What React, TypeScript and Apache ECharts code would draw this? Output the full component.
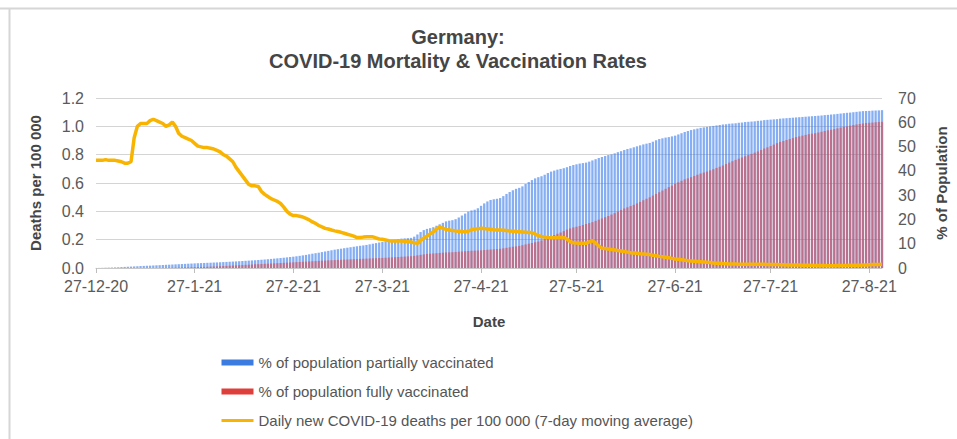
import React, { useEffect, useRef } from "react";
import * as echarts from "echarts";

// Dates: 27-12-20 .. 31-8-21 (daily)
const START = new Date(2020, 11, 27);
const DAY_COUNT = 248;
const dates: string[] = [];
const dayOfMonth: number[] = [];
for (let i = 0; i < DAY_COUNT; i++) {
  const d = new Date(START.getFullYear(), START.getMonth(), START.getDate() + i);
  dates.push(`${d.getDate()}-${d.getMonth() + 1}-${String(d.getFullYear()).slice(2)}`);
  dayOfMonth.push(d.getDate());
}

const leftTicks = [0, 0.2, 0.4, 0.6, 0.8, 1.0, 1.2];
const rightTicks = [0, 10, 20, 30, 40, 50, 60, 70];

// % of population partially vaccinated (daily)
const partiallyVaccinated: number[] = [
  // Dec 27-31
  0.02, 0.04, 0.07, 0.12, 0.16,
  // Jan
  0.2, 0.25, 0.3, 0.38, 0.45, 0.52, 0.58, 0.65, 0.72, 0.8, 0.86, 0.92, 0.97, 1.04, 1.1, 1.17,
  1.24, 1.31, 1.37, 1.43, 1.5, 1.57, 1.63, 1.7, 1.77, 1.83, 1.9, 1.96, 2.02, 2.08, 2.13,
  // Feb
  2.18, 2.24, 2.3, 2.37, 2.44, 2.51, 2.58, 2.65, 2.72, 2.8, 2.88, 2.96, 3.04, 3.12, 3.2, 3.3,
  3.4, 3.5, 3.62, 3.74, 3.86, 3.98, 4.1, 4.24, 4.38, 4.52, 4.66, 4.82,
  // Mar
  5.0, 5.2, 5.4, 5.65, 5.9, 6.1, 6.3, 6.55, 6.8, 7.05, 7.3, 7.55, 7.75, 7.95, 8.15, 8.35,
  8.55, 8.75, 8.95, 9.15, 9.3, 9.5, 9.75, 10.0, 10.25, 10.5, 10.75, 10.9, 11.1, 11.35, 11.6,
  // Apr
  11.9, 12.1, 12.2, 12.3, 12.4, 12.9, 13.8, 14.8, 15.6, 16.1, 16.4, 16.8, 17.4, 18.0, 18.6,
  19.2, 19.5, 19.7, 20.1, 20.8, 21.6, 22.4, 23.2, 23.7, 24.0, 24.6, 25.6, 26.6, 27.4, 28.0,
  // May
  28.3, 28.5, 28.8, 29.6, 30.5, 31.3, 32.0, 32.6, 33.0, 33.6, 34.6, 35.4, 36.2, 36.9, 37.4,
  37.8, 38.4, 39.1, 39.7, 40.1, 40.5, 40.8, 41.1, 41.5, 42.0, 42.4, 42.7, 43.0, 43.2, 43.4, 43.8,
  // Jun
  44.3, 44.8, 45.3, 45.7, 46.1, 46.5, 46.8, 47.2, 47.7, 48.1, 48.6, 49.0, 49.3, 49.7, 50.1,
  50.5, 50.9, 51.2, 51.5, 52.0, 52.6, 53.1, 53.4, 53.7, 53.9, 54.2, 54.5, 55.0, 55.5, 56.0,
  // Jul
  56.4, 56.8, 57.1, 57.4, 57.7, 57.9, 58.1, 58.3, 58.5, 58.7, 58.9, 59.1, 59.2, 59.4, 59.5,
  59.6, 59.8, 59.9, 60.1, 60.2, 60.3, 60.4, 60.6, 60.7, 60.9, 61.0, 61.1, 61.2, 61.3, 61.5, 61.6,
  // Aug
  61.7, 61.8, 61.9, 62.0, 62.1, 62.2, 62.3, 62.4, 62.5, 62.6, 62.7, 62.8, 62.95, 63.05, 63.2,
  63.3, 63.45, 63.6, 63.75, 63.9, 64.0, 64.15, 64.3, 64.45, 64.6, 64.65, 64.7, 64.8, 64.85, 64.9, 65.0,
];

// % of population fully vaccinated (daily)
const fullyVaccinated: number[] = [
  // Dec 27-31
  0, 0, 0, 0, 0,
  // Jan
  0, 0, 0, 0, 0, 0, 0, 0, 0, 0, 0, 0, 0, 0, 0, 0,
  0.02, 0.05, 0.08, 0.11, 0.14, 0.17, 0.2, 0.23, 0.27, 0.31, 0.35, 0.39, 0.43, 0.47, 0.51,
  // Feb
  0.56, 0.62, 0.68, 0.74, 0.8, 0.87, 0.94, 1.01, 1.08, 1.15, 1.22, 1.29, 1.36, 1.43, 1.5, 1.57,
  1.64, 1.71, 1.78, 1.85, 1.92, 1.99, 2.06, 2.13, 2.2, 2.27, 2.34, 2.41,
  // Mar
  2.48, 2.55, 2.62, 2.7, 2.78, 2.85, 2.92, 3.0, 3.07, 3.14, 3.2, 3.26, 3.32, 3.38, 3.44, 3.5,
  3.56, 3.62, 3.68, 3.74, 3.8, 3.86, 3.92, 3.98, 4.04, 4.1, 4.16, 4.22, 4.3, 4.38, 4.46,
  // Apr
  4.54, 4.62, 4.7, 4.78, 4.86, 5.0, 5.2, 5.4, 5.6, 5.8, 5.9, 6.0, 6.1, 6.2, 6.3, 6.4, 6.45,
  6.5, 6.6, 6.7, 6.8, 6.9, 7.0, 7.1, 7.15, 7.2, 7.3, 7.4, 7.5, 7.6,
  // May
  7.7, 7.8, 7.9, 8.1, 8.3, 8.5, 8.7, 8.9, 9.1, 9.4, 9.7, 10.0, 10.3, 10.6, 10.9, 11.3, 11.8,
  12.4, 13.0, 13.6, 14.1, 14.6, 15.2, 15.8, 16.3, 16.7, 17.0, 17.3, 17.7, 18.1, 18.5,
  // Jun
  18.9, 19.4, 19.9, 20.4, 20.9, 21.4, 22.0, 22.6, 23.2, 23.9, 24.5, 25.0, 25.5, 26.0, 26.6,
  27.2, 27.9, 28.5, 29.1, 29.8, 30.5, 31.2, 31.9, 32.6, 33.3, 33.9, 34.6, 35.3, 35.9, 36.5,
  // Jul
  36.9, 37.4, 37.9, 38.4, 38.9, 39.3, 39.7, 40.2, 40.7, 41.2, 41.7, 42.2, 42.8, 43.4, 44.0,
  44.5, 45.0, 45.5, 46.0, 46.5, 47.0, 47.5, 48.0, 48.6, 49.2, 49.7, 50.2, 50.8, 51.4, 51.9, 52.3,
  // Aug
  52.7, 53.1, 53.5, 53.9, 54.2, 54.5, 54.8, 55.1, 55.3, 55.5, 55.8, 56.1, 56.4, 56.7, 56.9,
  57.2, 57.5, 57.8, 58.1, 58.3, 58.6, 58.9, 59.1, 59.3, 59.5, 59.7, 59.8, 59.9, 60.0, 60.1, 60.2,
];

// Daily new COVID-19 deaths per 100 000 (7-day moving average)
const dailyDeaths: number[] = [
  0.76, 0.76, 0.76, 0.765, 0.76, 0.76, 0.76, 0.755, 0.75, 0.74,
  0.74, 0.75, 0.92, 1.0, 1.02, 1.02, 1.02, 1.04, 1.05, 1.04,
  1.03, 1.02, 1.0, 1.01, 1.03, 1.0, 0.95, 0.93, 0.92, 0.91,
  0.9, 0.88, 0.86, 0.855, 0.85, 0.85, 0.845, 0.84, 0.83, 0.82,
  0.8, 0.79, 0.77, 0.75, 0.71, 0.68, 0.65, 0.62, 0.59, 0.58,
  0.58, 0.575, 0.54, 0.52, 0.505, 0.49, 0.48, 0.47, 0.455, 0.43,
  0.4, 0.38, 0.37, 0.37, 0.365, 0.36, 0.35, 0.34, 0.325, 0.315,
  0.3, 0.29, 0.28, 0.275, 0.268, 0.262, 0.258, 0.252, 0.245, 0.238,
  0.232, 0.225, 0.215, 0.215, 0.218, 0.22, 0.22, 0.22, 0.212, 0.205,
  0.203, 0.198, 0.193, 0.19, 0.19, 0.19, 0.19, 0.188, 0.186, 0.183,
  0.178, 0.174, 0.195, 0.21, 0.225, 0.24, 0.255, 0.275, 0.29, 0.28,
  0.272, 0.268, 0.265, 0.262, 0.26, 0.258, 0.256, 0.26, 0.27, 0.275,
  0.277, 0.28, 0.278, 0.276, 0.273, 0.27, 0.268, 0.268, 0.266, 0.264,
  0.262, 0.26, 0.258, 0.256, 0.254, 0.252, 0.25, 0.25, 0.24, 0.228,
  0.222, 0.218, 0.215, 0.214, 0.214, 0.214, 0.215, 0.214, 0.205, 0.185,
  0.178, 0.176, 0.175, 0.174, 0.174, 0.185, 0.193, 0.175, 0.155, 0.14,
  0.137, 0.134, 0.13, 0.127, 0.123, 0.12, 0.116, 0.112, 0.108, 0.106,
  0.104, 0.101, 0.099, 0.097, 0.095, 0.09, 0.086, 0.082, 0.079, 0.076,
  0.072, 0.068, 0.064, 0.061, 0.058, 0.055, 0.052, 0.05, 0.048, 0.046,
  0.044, 0.042, 0.04, 0.038, 0.036, 0.034, 0.033, 0.031, 0.03, 0.028,
  0.028, 0.028, 0.027, 0.027, 0.027, 0.026, 0.026, 0.026, 0.026, 0.026,
  0.026, 0.025, 0.025, 0.024, 0.024, 0.023, 0.023, 0.022, 0.022, 0.021,
  0.021, 0.021, 0.02, 0.02, 0.019, 0.019, 0.018, 0.018, 0.017, 0.017,
  0.016, 0.016, 0.016, 0.017, 0.017, 0.018, 0.018, 0.019, 0.019, 0.02,
  0.02, 0.021, 0.022, 0.023, 0.024, 0.025, 0.025, 0.026,
];

const SERIES_PARTIAL = "% of population partially vaccinated";
const SERIES_FULL = "% of population fully vaccinated";
const SERIES_DEATHS = "Daily new COVID-19 deaths per 100 000 (7-day moving average)";

const FONT = "Liberation Sans, Arial, sans-serif";

export default function App() {
  const ref = useRef<HTMLDivElement>(null);

  useEffect(() => {
    if (!ref.current) return;
    const chart = echarts.init(ref.current, undefined, { renderer: "svg" });
    const isMonthTick = (i: number) => dayOfMonth[i] === 27;
    chart.setOption({
      animation: false,
      backgroundColor: "#ffffff",
      textStyle: { fontFamily: FONT },
      title: {
        text: "Germany:\nCOVID-19 Mortality & Vaccination Rates",
        left: 453,
        top: 20,
        textAlign: "center",
        textStyle: {
          fontFamily: FONT,
          fontSize: 20,
          fontWeight: "bold",
          color: "#454545",
          lineHeight: 24,
        },
      },
      graphic: [
        { type: "line", shape: { x1: 0, y1: 8.5, x2: 957, y2: 8.5 }, style: { stroke: "#d6d6d6", lineWidth: 2 } },
        { type: "line", shape: { x1: 9.5, y1: 8, x2: 9.5, y2: 439 }, style: { stroke: "#d6d6d6", lineWidth: 2 } },
      ],
      legend: {
        orient: "vertical",
        left: 215,
        top: 349,
        itemWidth: 32,
        itemHeight: 6,
        itemGap: 12,
        textStyle: { fontFamily: FONT, fontSize: 15, color: "#555", lineHeight: 17 },
        data: [
          { name: SERIES_PARTIAL, icon: "rect", itemStyle: { color: "#3c7be0", opacity: 1 } },
          { name: SERIES_FULL, icon: "rect", itemStyle: { color: "#df3f3a", opacity: 1 } },
          {
            name: SERIES_DEATHS,
            itemStyle: { color: "rgba(0,0,0,0)", borderWidth: 0, opacity: 0 },
            lineStyle: { color: "#f8b400", width: 3 },
          },
        ],
      },
      grid: { left: 96, right: 70, top: 98, bottom: 171, containLabel: false },
      xAxis: {
        type: "category",
        data: dates,
        boundaryGap: false,
        name: "Date",
        nameLocation: "middle",
        nameGap: 46,
        nameTextStyle: { fontFamily: FONT, fontSize: 15, fontWeight: "bold", color: "#454545" },
        axisLine: { lineStyle: { color: "#c8c8c8", width: 1 } },
        axisTick: { show: true, interval: isMonthTick, length: 5, lineStyle: { color: "#bdbdbd" } },
        axisLabel: { interval: isMonthTick, fontSize: 16, color: "#5a5a5a", margin: 10, fontFamily: FONT },
        splitLine: { show: false },
      },
      yAxis: [
        {
          type: "value",
          min: 0,
          max: 1.2,
          interval: 0.2,
          name: "Deaths per 100 000",
          nameLocation: "middle",
          nameRotate: 90,
          nameGap: 53,
          nameTextStyle: { fontFamily: FONT, fontSize: 15, fontWeight: "bold", color: "#454545" },
          axisLine: { show: false },
          axisTick: { show: false },
          axisLabel: {
            fontSize: 16,
            color: "#5a5a5a",
            margin: 12,
            fontFamily: FONT,
            formatter: (v: number) => (leftTicks.includes(Math.round(v * 10) / 10) ? v.toFixed(1) : ""),
          },
          splitLine: { lineStyle: { color: "#d4d4d4", width: 1 } },
        },
        {
          type: "value",
          min: 0,
          max: 70,
          interval: 10,
          name: "% of Population",
          nameLocation: "middle",
          nameRotate: 90,
          nameGap: 52,
          nameTextStyle: { fontFamily: FONT, fontSize: 15, fontWeight: "bold", color: "#454545" },
          axisLine: { show: false },
          axisTick: { show: false },
          axisLabel: {
            fontSize: 16,
            color: "#5a5a5a",
            margin: 16,
            fontFamily: FONT,
            formatter: (v: number) => (rightTicks.includes(v) ? String(v) : ""),
          },
          splitLine: { show: false },
        },
      ],
      series: [
        {
          name: SERIES_PARTIAL,
          type: "bar",
          yAxisIndex: 1,
          data: partiallyVaccinated,
          barWidth: "72%",
          barGap: "-100%",
          itemStyle: { color: "rgba(60,125,235,0.62)" },
          z: 1,
        },
        {
          name: SERIES_FULL,
          type: "bar",
          yAxisIndex: 1,
          data: fullyVaccinated,
          barWidth: "72%",
          barGap: "-100%",
          itemStyle: { color: "rgba(228,64,58,0.55)" },
          z: 2,
        },
        {
          name: SERIES_DEATHS,
          type: "line",
          yAxisIndex: 0,
          data: dailyDeaths,
          symbol: "none",
          lineStyle: { color: "#f8b400", width: 3.5 },
          itemStyle: { color: "#f8b400" },
          z: 3,
        },
      ],
    });
    return () => chart.dispose();
  }, []);

  return (
    <div
      ref={ref}
      style={{ position: "absolute", left: 0, top: 0, width: 957, height: 439 }}
    />
  );
}
